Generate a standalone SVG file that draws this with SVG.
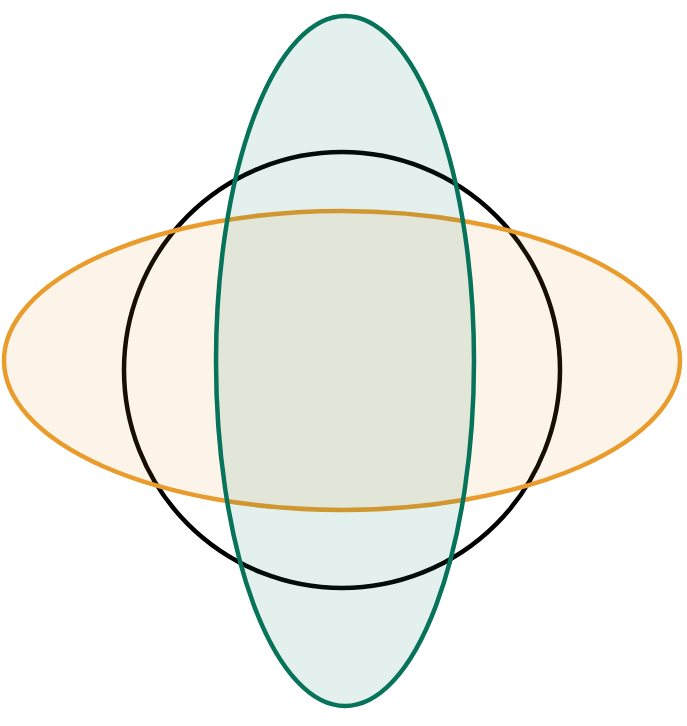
<svg xmlns="http://www.w3.org/2000/svg" width="687" height="726" viewBox="0 0 687 726">
<style>
.c{fill:none;stroke:#000;stroke-width:4.5}
.o{fill:#F0902A;fill-opacity:0.1;stroke:#E99C2C;stroke-width:4.5}
.g{fill:#0B7A5E;fill-opacity:0.11;stroke:#07735A;stroke-width:4.5}
</style>
<rect width="687" height="726" fill="#fff"/>
<g id="circle"><circle class="c" cx="342" cy="370" r="218"/></g>
<g id="orange"><ellipse class="o" cx="342" cy="360.5" rx="338" ry="149.5"/></g>
<g id="green"><ellipse class="g" cx="345" cy="361" rx="129" ry="345"/></g>
<g id="connectors"/>
</svg>
